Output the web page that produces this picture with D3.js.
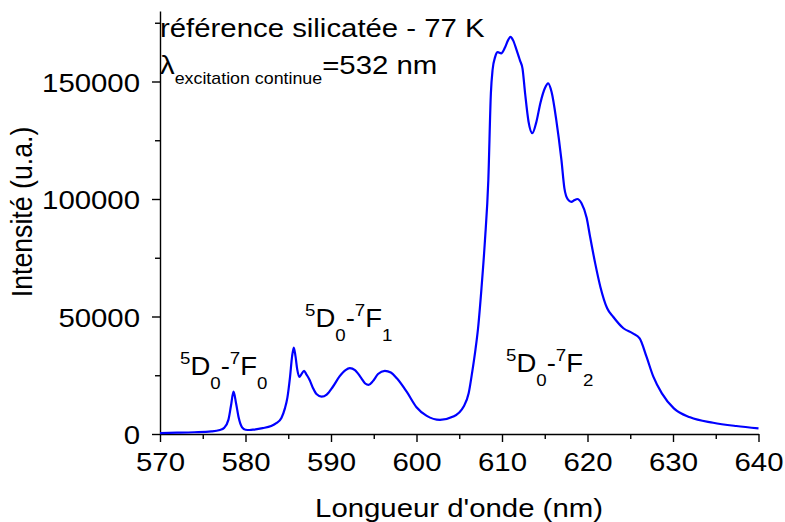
<!DOCTYPE html>
<html><head><meta charset="utf-8">
<script src="https://cdn.jsdelivr.net/npm/d3@7"></script>
<style>
html,body{margin:0;padding:0;background:#fff;}
svg{display:block;font-family:"Liberation Sans",Arial,sans-serif;}
</style></head>
<body><svg id="c" width="785" height="522"></svg>
<script>
// ---- data ----
const wavelength = [570,572,574,576,577,577.5,578,578.3,578.6,578.9,579.2,579.6,580.0,580.5,581,582,583,583.6,584.2,584.6,584.9,585.2,585.45,585.65,585.85,586.05,586.3,586.55,586.85,587.1,587.5,587.9,588.3,588.9,589.5,590.2,591,591.7,592.2,592.8,593.5,594.0,594.4,594.9,595.5,596.3,597,597.7,598.85,600,601.2,602.75,604.3,605.5,606.1,606.5,606.9,607.2,607.6,608,608.4,608.7,608.9,609.2,609.5,609.9,610.35,610.7,611.0,611.3,611.7,612.1,612.4,612.7,613.1,613.55,614.0,614.5,615.0,615.4,615.8,616.35,616.95,617.3,617.7,618.1,618.5,618.8,619.3,619.9,620.3,620.9,621.5,622.3,623.0,624.2,625.3,626.1,626.9,627.7,628.7,630.1,632.0,634.7,637.4,640];
const intensity = [400,550,750,1100,1700,2600,6000,12000,18000,13000,7000,2800,1800,1700,1900,2500,3400,4600,6800,10800,15500,24000,33000,36800,33000,27500,24300,25500,26900,25500,23000,19500,17000,15900,16800,20000,24500,27200,28000,27200,24000,21500,20900,22500,25500,26900,26200,23700,18000,11400,7700,6000,7400,11600,17300,26000,36000,45000,62000,82000,108000,145000,155000,160500,162500,162000,164500,167500,169000,167500,163500,159000,155500,145000,133000,128000,132500,141000,147000,149200,145500,133600,116600,104500,99800,98800,99600,100000,98200,92000,84000,72600,62700,53500,49900,45000,42800,40700,32900,24400,17300,10900,7100,4800,3400,2400];
const xMajorTicks = [570,580,590,600,610,620,630,640];
const xMinorTicks = [575,585,595,605,615,625,635];
const yMajorTicks = [0,50000,100000,150000];
const yMinorTicks = [25000,75000,125000,175000];
const xTitle = "Longueur d'onde (nm)";
const yTitle = "Intensité (u.a.)";
const titleLine1 = "référence silicatée - 77 K";

// ---- layout ----
const SX = 1.1;      // horizontal glyph stretch of the original
const FS = 26.7;
const svg = d3.select("#c");
const x = d3.scaleLinear().domain([570,640]).range([160,758.5]);
const y = d3.scaleLinear().domain([0,180000]).range([434,11]);

function txt(px, py, extra){
  return svg.append("text")
    .attr("transform", `translate(${px},${py}) scale(${SX},1)` + (extra||""))
    .attr("font-size", FS).attr("fill", "#000");
}

// axes
const gx = svg.append("g").attr("transform","translate(0,434)");
gx.call(d3.axisBottom(x).tickValues(xMajorTicks).tickSize(8).tickSizeOuter(0).tickFormat(d3.format("d")));
const gxm = svg.append("g").attr("transform","translate(0,434)");
gxm.call(d3.axisBottom(x).tickValues(xMinorTicks).tickSize(5).tickFormat(""));
gxm.select(".domain").remove();

const gy = svg.append("g").attr("transform","translate(160,0)");
gy.call(d3.axisLeft(y).tickValues(yMajorTicks).tickSize(8).tickSizeOuter(0).tickFormat(d3.format("d")));
const gym = svg.append("g").attr("transform","translate(160,0)");
gym.call(d3.axisLeft(y).tickValues(yMinorTicks).tickSize(5).tickFormat(""));
gym.select(".domain").remove();

svg.selectAll(".domain, .tick line").attr("stroke","#000").attr("stroke-width",1.4);
gx.selectAll(".tick text")
  .attr("font-size",FS).attr("font-family","Liberation Sans, Arial, sans-serif")
  .attr("fill","#000").attr("y",37).attr("dy",0)
  .attr("transform",`scale(${SX},1)`);
gy.selectAll(".tick text")
  .attr("font-size",FS).attr("font-family","Liberation Sans, Arial, sans-serif")
  .attr("fill","#000").attr("x",-20/SX).attr("dy","0.36em")
  .attr("transform",`scale(${SX},1)`);

// curve
const pts = wavelength.map((w,i)=>[w,intensity[i]]);
svg.append("path").datum(pts)
  .attr("fill","none").attr("stroke","#0000ff").attr("stroke-width",2.2)
  .attr("stroke-linejoin","round")
  .attr("d", d3.line().x(d=>x(d[0])).y(d=>y(d[1])).curve(d3.curveMonotoneX));

// axis titles
txt(459, 517).attr("text-anchor","middle").text(xTitle);
txt(32, 212, " rotate(-90)").attr("text-anchor","middle").text(yTitle);

// header annotations
txt(160, 37).text(titleLine1);
const t2 = txt(160, 74);
t2.append("tspan").text("λ");
t2.append("tspan").attr("font-size",16.2).attr("dy",10).text("excitation continue");
t2.append("tspan").attr("dy",-10).text("=532 nm");

// transition labels
function trans(px, py, j){
  const t = txt(px, py).attr("font-size",25);
  t.append("tspan").attr("font-size",17).attr("dy",-11).text("5");
  t.append("tspan").attr("dy",11).text("D");
  t.append("tspan").attr("font-size",17).attr("dy",14).text("0");
  t.append("tspan").attr("dy",-14).text("-");
  t.append("tspan").attr("font-size",17).attr("dy",-11).text("7");
  t.append("tspan").attr("dy",11).text("F");
  t.append("tspan").attr("font-size",17).attr("dy",14).text(j);
}
trans(180, 375, "0");
trans(305, 327, "1");
trans(506, 372, "2");
</script></body></html>
